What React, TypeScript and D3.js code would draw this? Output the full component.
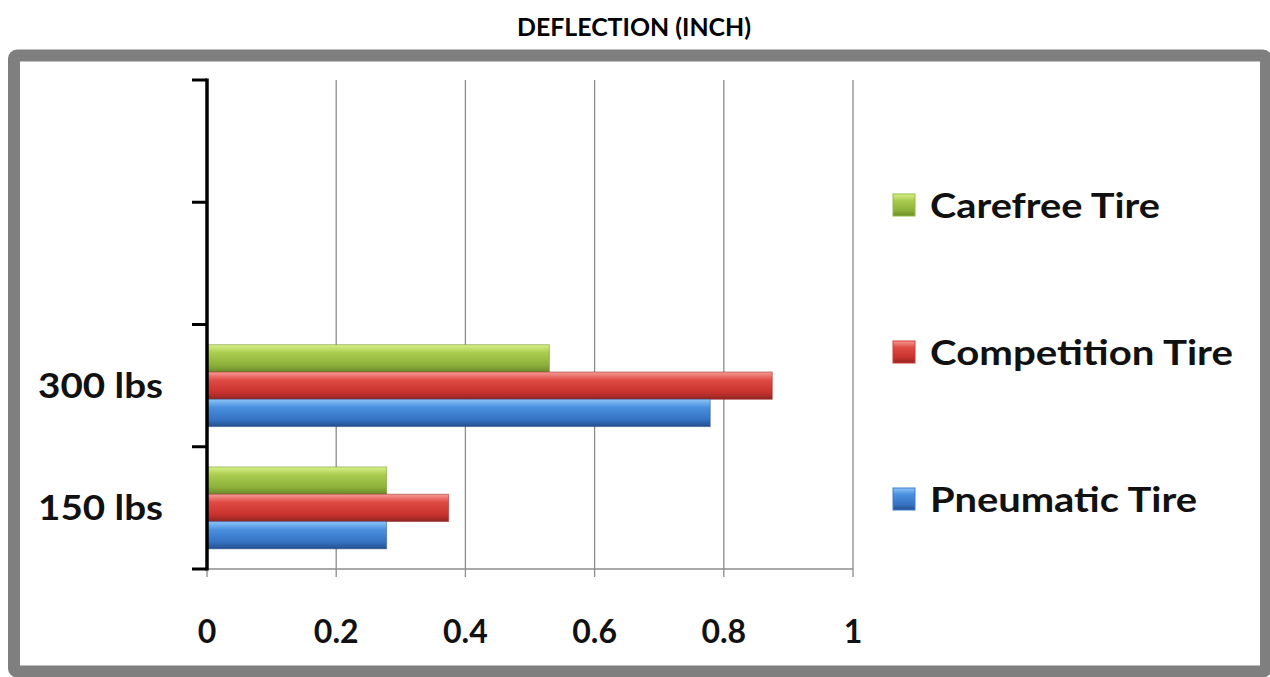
import React from "react";
import * as d3 from "d3";

const categories = ["150 lbs", "300 lbs", "", ""];
const seriesNames = ["Carefree Tire", "Competition Tire", "Pneumatic Tire"];
const carefree = [0.278, 0.53, null, null];
const competition = [0.374, 0.875, null, null];
const pneumatic = [0.278, 0.779, null, null];
const xTicks = [0, 0.2, 0.4, 0.6, 0.8, 1];
const xTickLabels = ["0", "0.2", "0.4", "0.6", "0.8", "1"];

const seriesValues = [carefree, competition, pneumatic];
const gradients = [
  { id: "gGreen", stops: ["#d9f08a", "#a9cc4f", "#8cb03a", "#6c8a2a"] },
  { id: "gRed", stops: ["#f59a94", "#e04a44", "#c8322e", "#8f2523"] },
  { id: "gBlue", stops: ["#8cc4f7", "#4a8fde", "#3572c4", "#254f8c"] },
];
const legendColors = ["#8fbf3c", "#d23c36", "#3d7fd0"];

export default function App() {
  const W = 1270, H = 677;
  const x0 = 207, x1 = 853;
  const yTop = 80, yBot = 569;
  const x = d3.scaleLinear().domain([0, 1]).range([x0, x1]);
  const y = d3
    .scaleBand<number>()
    .domain(d3.range(categories.length))
    .range([yBot, yTop])
    .paddingInner(0.33)
    .paddingOuter(0.165);
  const inner = d3
    .scaleBand<number>()
    .domain(d3.range(seriesNames.length))
    .range([0, y.bandwidth()]);
  const step = y.step();
  const boundaries = d3.range(categories.length + 1).map((i) => yBot - i * step);
  const font = "Lato, 'Open Sans', sans-serif";
  const legendY = [205, 352, 499];
  const legendWidths = [230, 303, 267];

  return (
    <svg
      width={W}
      height={H}
      style={{ position: "absolute", left: 0, top: 0, background: "#fff" }}
    >
      <defs>
        {gradients.map((g) => (
          <linearGradient key={g.id} id={g.id} x1="0" y1="0" x2="0" y2="1">
            <stop offset="0%" stopColor={g.stops[0]} />
            <stop offset="30%" stopColor={g.stops[1]} />
            <stop offset="75%" stopColor={g.stops[2]} />
            <stop offset="100%" stopColor={g.stops[3]} />
          </linearGradient>
        ))}
      </defs>
      <text
        x={634}
        y={36}
        textAnchor="middle"
        fontFamily={font}
        fontWeight={700}
        fontSize={25}
        textLength={234}
        lengthAdjust="spacingAndGlyphs"
        fill="#000"
      >
        DEFLECTION (INCH)
      </text>
      <rect
        x={14}
        y={55.5}
        width={1252}
        height={616}
        fill="#fff"
        stroke="#7f7f7f"
        strokeWidth={12}
        rx={3}
      />
      {/* gridlines */}
      {xTicks.slice(1).map((t) => (
        <line
          key={t}
          x1={x(t)}
          x2={x(t)}
          y1={yTop}
          y2={yBot + 8}
          stroke="#8c8c8c"
          strokeWidth={1.3}
        />
      ))}
      {/* x axis */}
      <line x1={x0} x2={x1} y1={yBot} y2={yBot} stroke="#8c8c8c" strokeWidth={1.5} />
      <line x1={x0} x2={x0} y1={yBot} y2={yBot + 8} stroke="#8c8c8c" strokeWidth={1.3} />
      {xTicks.map((t, i) => (
        <text
          key={t}
          x={x(t)}
          y={643}
          textAnchor="middle"
          fontFamily={font}
          fontWeight={700}
          fontSize={32}
          fill="#111"
        >
          {xTickLabels[i]}
        </text>
      ))}
      {/* bars */}
      {categories.map((c, ci) =>
        seriesValues.map((vals, si) => {
          const v = vals[ci];
          if (v == null) return null;
          const by = (y(ci) as number) + (inner(si) as number);
          return (
            <rect
              key={ci + "-" + si}
              x={x(0)}
              y={by}
              width={x(v) - x(0)}
              height={inner.bandwidth()}
              fill={`url(#${gradients[si].id})`}
              stroke={gradients[si].stops[3]}
              strokeOpacity={0.5}
              strokeWidth={1}
            />
          );
        })
      )}
      {/* y axis */}
      <line x1={x0} x2={x0} y1={yTop - 1.5} y2={yBot + 1.5} stroke="#000" strokeWidth={3.5} />
      {boundaries.map((b, i) => (
        <line key={i} x1={x0 - 15} x2={x0} y1={b} y2={b} stroke="#000" strokeWidth={3} />
      ))}
      {categories.map((c, ci) =>
        c ? (
          <text
            key={ci}
            x={163}
            y={(y(ci) as number) + y.bandwidth() / 2 + 12}
            textAnchor="end"
            fontFamily={font}
            fontWeight={700}
            fontSize={34}
            textLength={125}
            lengthAdjust="spacingAndGlyphs"
            fill="#111"
          >
            {c}
          </text>
        ) : null
      )}
      {/* legend */}
      {seriesNames.map((s, i) => (
        <g key={s}>
          <rect
            x={893}
            y={legendY[i] - 11}
            width={22}
            height={22}
            fill={`url(#${gradients[i].id})`}
            stroke={legendColors[i]}
            strokeWidth={1}
          />
          <text
            x={930}
            y={legendY[i] + 13}
            fontFamily={font}
            fontWeight={700}
            fontSize={34}
            textLength={legendWidths[i]}
            lengthAdjust="spacingAndGlyphs"
            fill="#111"
          >
            {s}
          </text>
        </g>
      ))}
    </svg>
  );
}
